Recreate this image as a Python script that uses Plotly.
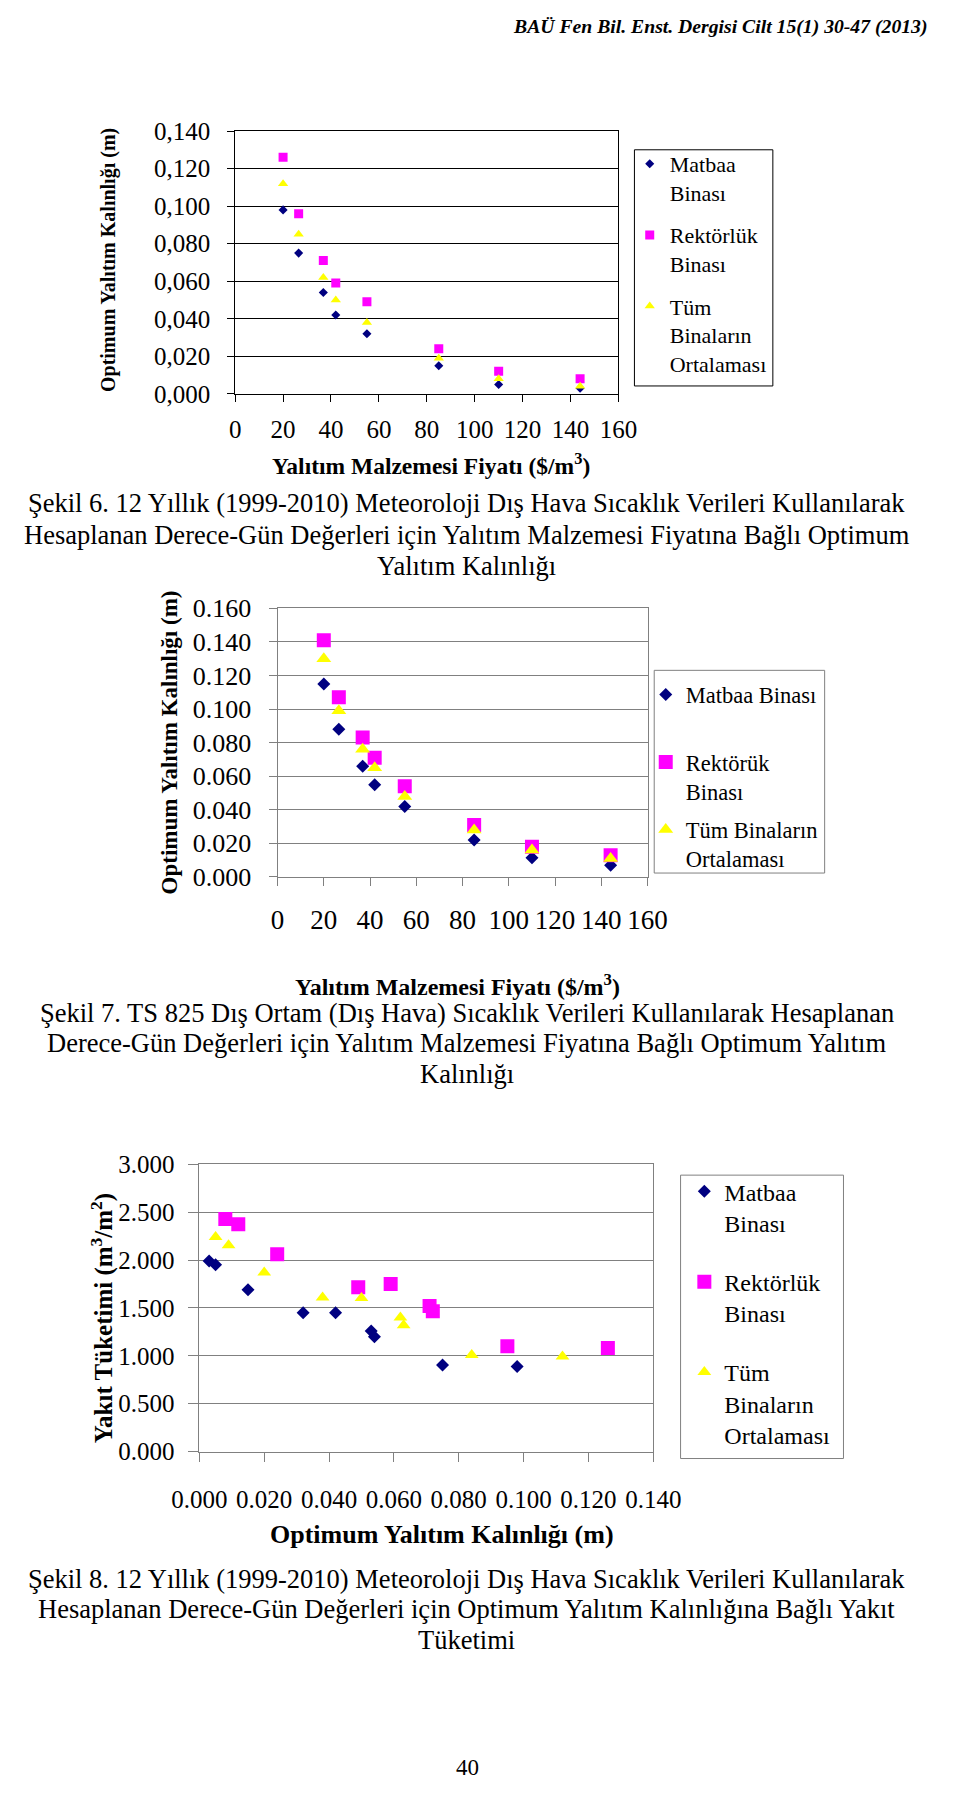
import plotly.graph_objects as go

# ---------------- data ----------------
# Şekil 6
fig6_price = [20, 26.5, 36.8, 42, 55, 85, 110, 144]
fig6_matbaa = [0.098, 0.075, 0.054, 0.042, 0.032, 0.015, 0.005, 0.003]
fig6_rektorluk = [0.126, 0.096, 0.071, 0.059, 0.049, 0.024, 0.012, 0.008]
fig6_tum = [0.112, 0.085, 0.062, 0.050, 0.038, 0.019, 0.008, 0.004]
fig6_xticks = [0, 20, 40, 60, 80, 100, 120, 140, 160]
fig6_yticks = [0.0, 0.02, 0.04, 0.06, 0.08, 0.10, 0.12, 0.14]
fig6_yticktext = ["0,000", "0,020", "0,040", "0,060", "0,080", "0,100", "0,120", "0,140"]

# Şekil 7
fig7_price = [20, 26.5, 36.8, 42, 55, 85, 110, 144]
fig7_matbaa = [0.115, 0.088, 0.066, 0.055, 0.042, 0.022, 0.0115, 0.007]
fig7_rektoruk = [0.141, 0.107, 0.083, 0.071, 0.054, 0.031, 0.018, 0.013]
fig7_tum = [0.130, 0.099, 0.076, 0.065, 0.048, 0.028, 0.016, 0.011]
fig7_xticks = [0, 20, 40, 60, 80, 100, 120, 140, 160]
fig7_yticks = [0.0, 0.02, 0.04, 0.06, 0.08, 0.10, 0.12, 0.14, 0.16]
fig7_yticktext = ["0.000", "0.020", "0.040", "0.060", "0.080", "0.100", "0.120", "0.140", "0.160"]

# Şekil 8
fig8_matbaa_x = [0.003, 0.005, 0.015, 0.032, 0.042, 0.053, 0.054, 0.075, 0.098]
fig8_matbaa_y = [1.99, 1.95, 1.69, 1.45, 1.45, 1.26, 1.20, 0.905, 0.89]
fig8_rektorluk_x = [0.008, 0.012, 0.024, 0.049, 0.059, 0.071, 0.072, 0.095, 0.126]
fig8_rektorluk_y = [2.43, 2.375, 2.06, 1.715, 1.75, 1.52, 1.467, 1.10, 1.082]
fig8_tum_x = [0.005, 0.009, 0.020, 0.038, 0.050, 0.062, 0.063, 0.084, 0.112]
fig8_tum_y = [2.24, 2.155, 1.87, 1.61, 1.605, 1.40, 1.32, 1.01, 0.993]
fig8_xticks = [0.0, 0.02, 0.04, 0.06, 0.08, 0.10, 0.12, 0.14]
fig8_xticktext = ["0.000", "0.020", "0.040", "0.060", "0.080", "0.100", "0.120", "0.140"]
fig8_yticks = [0.0, 0.5, 1.0, 1.5, 2.0, 2.5, 3.0]
fig8_yticktext = ["0.000", "0.500", "1.000", "1.500", "2.000", "2.500", "3.000"]

# ---------------- layout helpers ----------------
W, H = 960, 1813
def px_x(p): return p / W
def px_y(p): return 1 - p / H

FONT = "Liberation Serif"
NAVY, MAG, YEL, GRAY = "#000080", "#FF00FF", "#FFFF00", "#808080"

fig = go.Figure()

def add_series(x, y, xa, ya, name, color, symbol, size, legend, group):
    fig.add_trace(go.Scatter(
        x=x, y=y, xaxis=xa, yaxis=ya, mode="markers", name=name,
        legend=legend, legendgroup=group,
        marker=dict(color=color, symbol=symbol, size=size, line=dict(width=0)),
        hoverinfo="x+y"))

# chart 1
add_series(fig6_price, fig6_matbaa, "x", "y", "Matbaa<br>Binası", NAVY, "diamond", 7, "legend", "a1")
add_series(fig6_price, fig6_rektorluk, "x", "y", "Rektörlük<br>Binası", MAG, "square", 9, "legend", "b1")
add_series(fig6_price, fig6_tum, "x", "y", "Tüm<br>Binaların<br>Ortalaması", YEL, "triangle-up", 9, "legend", "c1")
# chart 2
add_series(fig7_price, fig7_matbaa, "x2", "y2", "Matbaa Binası<br>\u00a0", NAVY, "diamond", 10, "legend2", "a2")
add_series(fig7_price, fig7_rektoruk, "x2", "y2", "Rektörük<br>Binası", MAG, "square", 14, "legend2", "b2")
add_series(fig7_price, fig7_tum, "x2", "y2", "Tüm Binaların<br>Ortalaması", YEL, "triangle-up", 13, "legend2", "c2")
# chart 3
add_series(fig8_matbaa_x, fig8_matbaa_y, "x3", "y3", "Matbaa<br>Binası", NAVY, "diamond", 10, "legend3", "a3")
add_series(fig8_rektorluk_x, fig8_rektorluk_y, "x3", "y3", "Rektörlük<br>Binası", MAG, "square", 14, "legend3", "b3")
add_series(fig8_tum_x, fig8_tum_y, "x3", "y3", "Tüm<br>Binaların<br>Ortalaması", YEL, "triangle-up", 12, "legend3", "c3")

def axis(domain, rng, tickvals, ticktext, color, fsize, ticklen, standoff, anchor, grid):
    return dict(domain=domain, range=rng, tickmode="array", tickvals=tickvals,
                ticktext=ticktext, ticks="outside", ticklen=ticklen, tickwidth=1,
                tickcolor=color, showline=True, linecolor=color, linewidth=1,
                mirror=True, zeroline=False, showgrid=grid, gridcolor=color,
                gridwidth=1, anchor=anchor, ticklabelstandoff=standoff,
                tickfont=dict(family=FONT, size=fsize, color="black"), fixedrange=True)

def legend_cfg(x, y, size, gap):
    return dict(x=px_x(x), y=px_y(y), xanchor="left", yanchor="top",
                borderwidth=0, bgcolor="rgba(0,0,0,0)",
                font=dict(family=FONT, size=size, color="black"),
                traceorder="grouped", tracegroupgap=gap, valign="top")

layout = dict(
    width=W, height=H, margin=dict(l=0, r=0, t=0, b=0), autosize=False,
    paper_bgcolor="white", plot_bgcolor="white", showlegend=True,
    font=dict(family=FONT, color="black"),
    xaxis=axis([px_x(220), px_x(627)], [0, 160], fig6_xticks, [str(v) for v in fig6_xticks],
               "black", 25, 7, 6, "y", False),
    yaxis=axis([px_y(386), px_y(119)], [0, 0.14], fig6_yticks, fig6_yticktext,
               "black", 25, 7, 12, "x", True),
    xaxis2=axis([px_x(265), px_x(658)], [0, 160], fig7_xticks, [str(v) for v in fig7_xticks],
                GRAY, 27, 8, 11, "y2", False),
    yaxis2=axis([px_y(877), px_y(604)], [0, 0.16], fig7_yticks, fig7_yticktext,
                GRAY, 26, 8, 12, "x2", True),
    xaxis3=axis([px_x(182), px_x(664)], [0, 0.14], fig8_xticks, fig8_xticktext,
                GRAY, 25, 9, 16, "y3", False),
    yaxis3=axis([px_y(1461), px_y(1169)], [0, 3.0], fig8_yticks, fig8_yticktext,
                GRAY, 25, 10, 9, "x3", True),
    legend=legend_cfg(639, 131, 22, 11),
    legend2=legend_cfg(656, 670, 22.5, 6),
    legend3=legend_cfg(697, 1174, 24, 25),
)
fig.update_layout(**layout)

# legend frames
for (x0, y0, x1, y1, c) in [(644, 138, 791, 378, "black"),
                            (665, 667, 846, 873, GRAY),
                            (693, 1180, 866, 1468, GRAY)]:
    fig.add_shape(type="rect", xref="paper", yref="paper",
                  x0=px_x(x0), x1=px_x(x1), y0=px_y(y1), y1=px_y(y0),
                  line=dict(color=c, width=1), fillcolor="white", layer="below")

def text(x, y, s, size, xanchor="center", angle=0, bold=False, italic=False):
    if bold:
        s = "<b>" + s + "</b>"
    if italic:
        s = "<i>" + s + "</i>"
    fig.add_annotation(x=px_x(x), y=px_y(y), xref="paper", yref="paper", text=s,
                       showarrow=False, xanchor=xanchor, yanchor="middle",
                       textangle=angle, font=dict(family=FONT, size=size, color="black"))

# header
text(957, 13, "BAÜ Fen Bil. Enst. Dergisi Cilt 15(1) 30-47 (2013)", 19.7, xanchor="right", bold=True, italic=True)

# chart 1 titles
text(428, 457, "Yalıtım Malzemesi Fiyatı ($/m<sup>3</sup>)", 23.5, bold=True)
text(85, 250, "Optimum Yalıtım Kalınlığı (m)", 20, angle=-90, bold=True)
cap6 = ["Şekil 6. 12 Yıllık (1999-2010) Meteoroloji Dış Hava Sıcaklık Verileri Kullanılarak",
        "Hesaplanan Derece-Gün Değerleri için Yalıtım Malzemesi Fiyatına Bağlı Optimum",
        "Yalıtım Kalınlığı"]
for i, line in enumerate(cap6):
    text(466, 497 + 32 * i, line, 26.5)

# chart 2 titles
text(456, 987, "Yalıtım Malzemesi Fiyatı ($/m<sup>3</sup>)", 24, bold=True)
text(150, 740, "Optimum Yalıtım Kalınlığı (m)", 23, angle=-90, bold=True)
cap7 = ["Şekil 7. TS 825 Dış Ortam (Dış Hava) Sıcaklık Verileri Kullanılarak Hesaplanan",
        "Derece-Gün Değerleri için Yalıtım Malzemesi Fiyatına Bağlı Optimum Yalıtım",
        "Kalınlığı"]
for i, line in enumerate(cap7):
    text(466, 1015 + 31 * i, line, 26.5)

# chart 3 titles
text(440, 1545, "Optimum Yalıtım Kalınlığı (m)", 26, bold=True)
text(79, 1325, "Yakıt Tüketimi (m<sup>3</sup>/m<sup>2</sup>)", 25, angle=-90, bold=True)
cap8 = ["Şekil 8. 12 Yıllık (1999-2010) Meteoroloji Dış Hava Sıcaklık Verileri Kullanılarak",
        "Hesaplanan Derece-Gün Değerleri için Optimum Yalıtım Kalınlığına Bağlı Yakıt",
        "Tüketimi"]
for i, line in enumerate(cap8):
    text(466, 1590 + 31 * i, line, 26.5)

# page number
text(467, 1782, "40", 23)

fig.write_html("out.html")
